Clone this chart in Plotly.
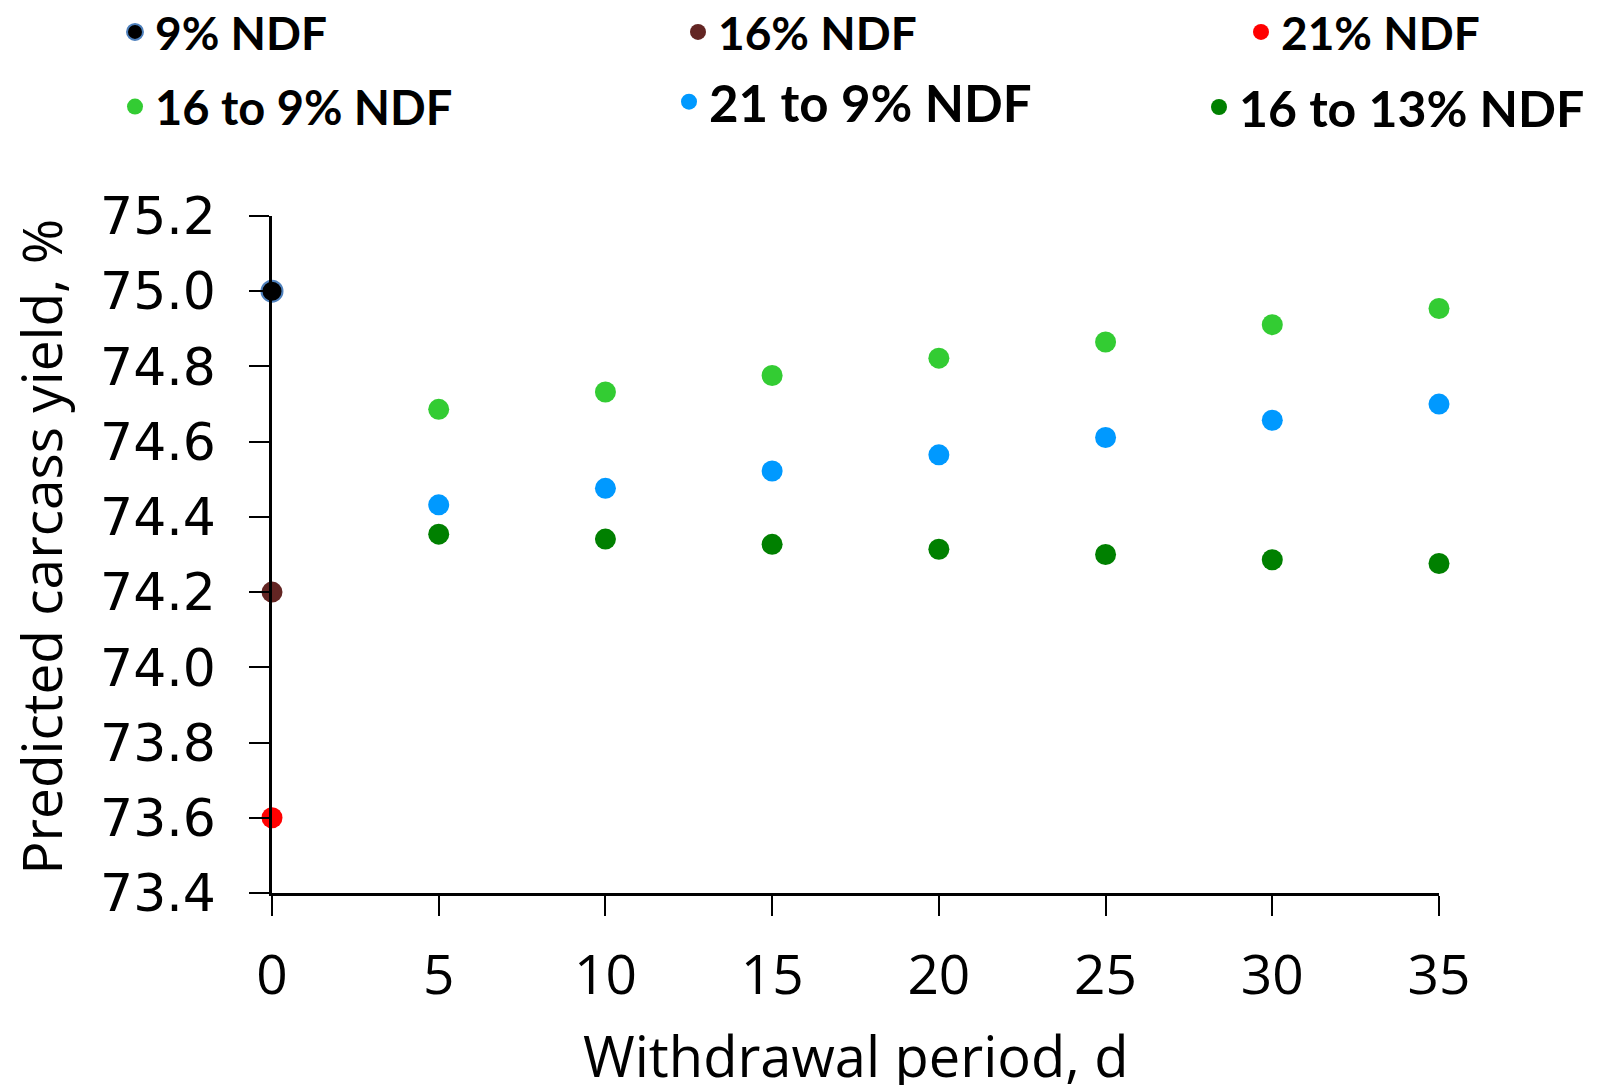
import plotly.graph_objects as go

# ---- data ----
days_single = [0]
ndf9 = [75.0]
ndf16 = [74.2]
ndf21 = [73.6]

days = [5, 10, 15, 20, 25, 30, 35]
ndf16_to_9 = [74.686, 74.732, 74.776, 74.822, 74.865, 74.911, 74.954]
ndf21_to_9 = [74.432, 74.476, 74.522, 74.565, 74.611, 74.657, 74.700]
ndf16_to_13 = [74.354, 74.341, 74.327, 74.314, 74.300, 74.286, 74.276]

x_ticks = [0, 5, 10, 15, 20, 25, 30, 35]
y_ticks = [73.4, 73.6, 73.8, 74.0, 74.2, 74.4, 74.6, 74.8, 75.0, 75.2]
y_ticklabels = ["73.4", "73.6", "73.8", "74.0", "74.2", "74.4", "74.6", "74.8", "75.0", "75.2"]

W, H = 1597, 1085
OFF = 8  # page body margin

# name, x, y, color, marker outline, legend id, text-left px, center-y px, font size
series = [
    ("9% NDF", days_single, ndf9, "#000000", dict(color="#4F81BD", width=2), "legend", 161, 32, 46),
    ("16% NDF", days_single, ndf16, "#632523", dict(width=0), "legend2", 724, 32, 46),
    ("21% NDF", days_single, ndf21, "#FF0000", dict(width=0), "legend3", 1287, 32, 46),
    ("16 to 9% NDF", days, ndf16_to_9, "#33CC33", dict(width=0), "legend4", 161, 107, 47),
    ("21 to 9% NDF", days, ndf21_to_9, "#0099FF", dict(width=0), "legend5", 715, 102, 51),
    ("16 to 13% NDF", days, ndf16_to_13, "#008000", dict(width=0), "legend6", 1245, 107, 50),
]

fig = go.Figure()
legend_layouts = {}
for name, xs, ys, color, line, lg, tx, cy, fs in series:
    fig.add_trace(go.Scatter(
        x=xs, y=ys, mode="markers", name=name, legend=lg,
        marker=dict(size=21, color=color, line=line),
        cliponaxis=False,
    ))
    legend_layouts[lg] = dict(
        x=(tx - OFF - 46) / W, y=1 - (cy - OFF) / H, xref="container", yref="container",
        xanchor="left", yanchor="middle",
        font=dict(family="Lato", size=fs, color="#000000", weight="bold"),
        bgcolor="rgba(0,0,0,0)", borderwidth=0, itemsizing="trace",
    )

L, T = 272 - OFF, 216 - OFF
R = W - (1439 - OFF)
B = H - (893 - OFF)

fig.update_layout(
    width=W, height=H,
    margin=dict(l=L, r=R, t=T, b=B, autoexpand=False),
    paper_bgcolor="white", plot_bgcolor="white",
    showlegend=True,
    **legend_layouts,
)

fig.update_xaxes(
    range=[0, 35], tickmode="array", tickvals=x_ticks,
    showgrid=False, zeroline=False, automargin=False,
    showline=True, linecolor="black", linewidth=2.5,
    ticks="outside", ticklen=20, tickwidth=2, tickcolor="black",
    tickfont=dict(family="Open Sans", size=55, color="black"),
    ticklabelstandoff=12,
)
fig.update_yaxes(
    range=[73.4, 75.2], tickmode="array", tickvals=y_ticks, ticktext=y_ticklabels,
    showgrid=False, zeroline=False, automargin=False,
    showline=True, linecolor="black", linewidth=2.5,
    ticks="outside", ticklen=20, tickwidth=2, tickcolor="black",
    tickfont=dict(family="DejaVu Sans", size=52, color="black"),
    ticklabelstandoff=23,
)

plot_bottom = 893 - OFF
plot_left = 272 - OFF
fig.add_annotation(
    text="Withdrawal period, d", xref="paper", yref="paper", x=0.5, y=0,
    xanchor="center", yanchor="middle", yshift=-((1055 - OFF) - plot_bottom),
    showarrow=False, font=dict(family="Open Sans", size=56, color="black"),
)
fig.add_annotation(
    text="Predicted carcass yield, %", xref="paper", yref="paper", x=0, y=0.5,
    xanchor="center", yanchor="middle", xshift=(40 - OFF) - plot_left, yshift=8,
    textangle=-90, showarrow=False, font=dict(family="Open Sans", size=55, color="black"),
)

fig.write_html("out.html")
